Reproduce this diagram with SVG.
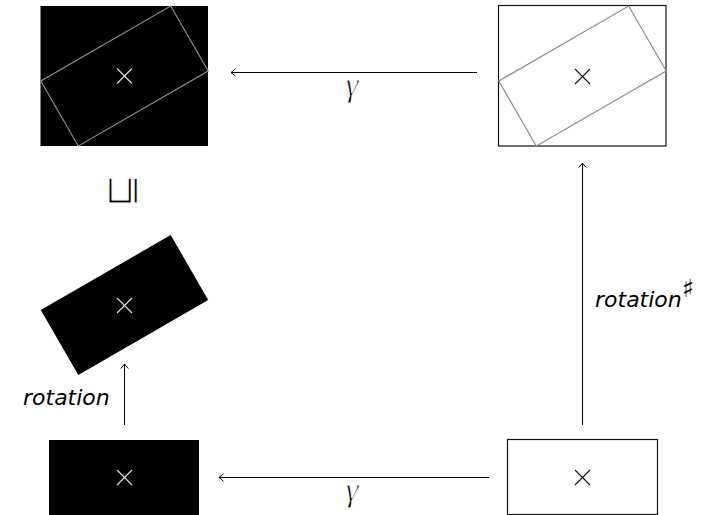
<svg xmlns="http://www.w3.org/2000/svg" width="704" height="515" viewBox="0 0 704 515">
  <style>
    .frame { fill: #fff; stroke: #111; stroke-width: 1.2; }
    .solid { fill: #000; stroke: none; }
    .outline { fill: none; stroke: #8c8c8c; stroke-width: 1.2; }
    .xw { stroke: #e6e6e6; stroke-width: 1.1; }
    .xb { stroke: #111; stroke-width: 1.1; }
    .arrow { stroke: #000; stroke-width: 1; fill: none; marker-end: url(#head); }
    .lbl { font-family: "DejaVu Sans", sans-serif; font-style: oblique; font-size: 22px; fill: #000; }
    .greek { font-family: "Liberation Serif", serif; font-style: italic; font-size: 33px; fill: #000; stroke: #fff; stroke-width: 0.9; paint-order: fill stroke; }
    .rel { font-family: "DejaVu Sans", sans-serif; font-size: 40px; fill: #000; stroke: #fff; stroke-width: 1.3; paint-order: fill stroke; }
    .sharp { font-family: "DejaVu Sans", sans-serif; font-style: normal; font-size: 25px; }
  </style>
  <defs>
    <marker id="head" markerUnits="userSpaceOnUse" markerWidth="12" markerHeight="12" viewBox="-6 -6 12 12" refX="0" refY="0" orient="auto">
      <path d="M-4.5,-3.8 Q-1.6,-0.9 0,0 Q-1.6,0.9 -4.5,3.8" fill="none" stroke="#000" stroke-width="1"/>
    </marker>
    <g id="cross">
      <line x1="-7.5" y1="-7.5" x2="7.5" y2="7.5"/>
      <line x1="-7.5" y1="7.5" x2="7.5" y2="-7.5"/>
    </g>
  </defs>

  <!-- top left: black frame with rotated outline -->
  <g id="node-top-left">
    <rect class="solid" x="40.5" y="6" width="167.5" height="140"/>
    <rect class="outline" x="-75" y="-37.5" width="150" height="75" transform="translate(124.5,76) rotate(-30)"/>
    <use href="#cross" class="xw" x="124.5" y="76"/>
  </g>

  <!-- top right: white frame with rotated outline -->
  <g id="node-top-right">
    <rect class="frame" x="498.5" y="5.5" width="167.5" height="140.5"/>
    <rect class="outline" x="-75" y="-37.5" width="150" height="75" transform="translate(582.5,76) rotate(-30)"/>
    <use href="#cross" class="xb" x="582.5" y="76.5"/>
  </g>

  <!-- middle left: rotated black rectangle -->
  <g id="node-mid-left">
    <rect class="solid" x="-75" y="-37.5" width="150" height="75" transform="translate(124.5,305) rotate(-30)"/>
    <use href="#cross" class="xw" x="124.5" y="305.5"/>
  </g>

  <!-- bottom left: black rectangle -->
  <g id="node-bottom-left">
    <rect class="solid" x="49" y="440" width="150" height="75"/>
    <use href="#cross" class="xw" x="124.5" y="477.5"/>
  </g>

  <!-- bottom right: white rectangle -->
  <g id="node-bottom-right">
    <rect class="frame" x="507.5" y="439.5" width="150" height="75"/>
    <use href="#cross" class="xb" x="582.5" y="477.5"/>
  </g>

  <!-- order relation between the top-left frame and the rotated rectangle -->
  <g id="relation">
    <text class="rel" text-anchor="middle" dominant-baseline="central" transform="translate(119.5,190.5) rotate(-90)">⊑</text>
  </g>

  <!-- connectors -->
  <g id="connectors">
    <line class="arrow" x1="477" y1="72.5" x2="231" y2="72.5"/>
    <line class="arrow" x1="489" y1="477.5" x2="219" y2="477.5"/>
    <line class="arrow" x1="124.5" y1="425" x2="124.5" y2="364"/>
    <line class="arrow" x1="582.5" y1="425" x2="582.5" y2="163"/>
    <text class="greek" x="352" y="96" text-anchor="middle">γ</text>
    <text class="greek" x="352" y="501" text-anchor="middle">γ</text>
    <text class="lbl" x="23" y="405">rotation</text>
    <text class="lbl" x="595" y="306.5">rotation<tspan class="sharp" dx="0" dy="-10">♯</tspan></text>
  </g>
</svg>
